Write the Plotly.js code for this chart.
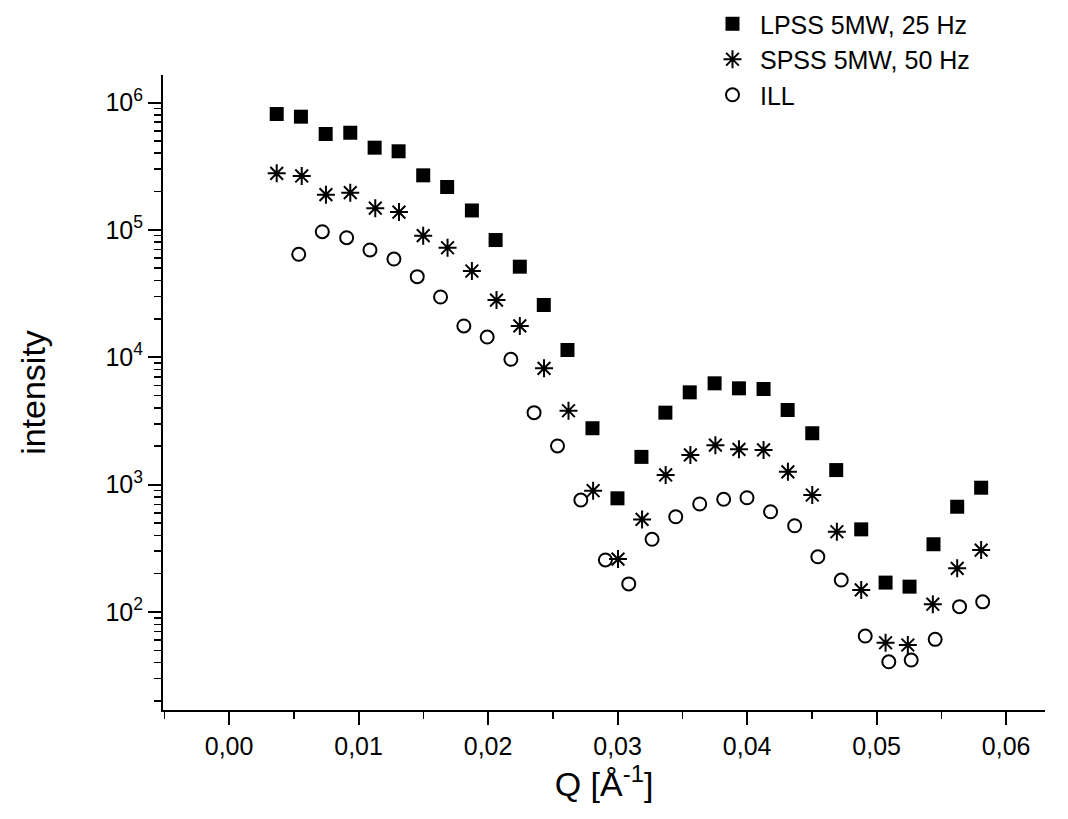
<!DOCTYPE html>
<html>
<head>
<meta charset="utf-8">
<script src="https://cdn.plot.ly/plotly-3.0.1.min.js"></script>
<style>html,body{margin:0;padding:0;background:#fff}#chart{width:1068px;height:819px}</style>
</head>
<body>
<div id="chart"></div>
<script>
// LPSS 5MW, 25 Hz (filled squares)
const lpssQ = [0.00368,0.00555,0.00746,0.00936,0.01124,0.01309,0.01499,0.01684,0.01875,0.02058,
               0.02245,0.02430,0.02613,0.02806,0.02999,0.03184,0.03369,0.03557,0.03749,0.03937,
               0.04127,0.04313,0.04503,0.04688,0.04881,0.05069,0.05254,0.05439,0.05622,0.05807];
const lpssI = [8.12e5,7.74e5,5.66e5,5.79e5,4.42e5,4.14e5,2.68e5,2.17e5,1.42e5,8.32e4,
               5.14e4,2.57e4,1.14e4,2770,780,1650,3670,5300,6240,5700,
               5630,3850,2530,1300,445,170,158,340,670,945];
// SPSS 5MW, 50 Hz (asterisks)
const spssQ = [0.00368,0.00561,0.00748,0.00936,0.01129,0.01312,0.01499,0.01687,0.01875,0.02065,
               0.02245,0.02432,0.02621,0.02811,0.03003,0.03189,0.03371,0.03562,0.03755,0.03937,
               0.04127,0.04315,0.04503,0.04693,0.04881,0.05069,0.05241,0.05434,0.05622,0.05807];
const spssI = [2.78e5,2.65e5,1.89e5,1.96e5,1.48e5,1.38e5,9.0e4,7.24e4,4.75e4,2.81e4,
               1.76e4,8180,3800,895,260,533,1190,1710,2040,1890,
               1870,1260,828,426,149,57.3,55.0,115,220,306];
// ILL (open circles)
const illQ = [0.00538,0.00720,0.00908,0.01088,0.01273,0.01453,0.01633,0.01813,0.01993,0.02176,
              0.02355,0.02536,0.02716,0.02906,0.03086,0.03266,0.03449,0.03634,0.03819,0.03999,
              0.04181,0.04367,0.04546,0.04727,0.04912,0.05094,0.05267,0.05452,0.05640,0.05819];
const illI = [6.43e4,9.67e4,8.68e4,6.95e4,5.90e4,4.29e4,2.97e4,1.76e4,1.44e4,9630,
              3670,2010,756,256,166,372,559,704,766,788,
              612,475,271,178,64.7,40.6,41.9,60.9,110,120];

const seriesNames = ["LPSS 5MW, 25 Hz", "SPSS 5MW, 50 Hz", "ILL"];
const xTickVals = [0, 0.01, 0.02, 0.03, 0.04, 0.05, 0.06];
const xTickText = ["0,00", "0,01", "0,02", "0,03", "0,04", "0,05", "0,06"];
const yTickVals = [1e2, 1e3, 1e4, 1e5, 1e6];
const yTickText = ["10<sup>2</sup>", "10<sup>3</sup>", "10<sup>4</sup>", "10<sup>5</sup>", "10<sup>6</sup>"];

const FONT = "Liberation Sans, Arial, sans-serif";

const traces = [
  {x: lpssQ, y: lpssI, name: seriesNames[0], type: "scatter", mode: "markers",
   marker: {symbol: "square", size: 14, color: "#000"}},
  {x: spssQ, y: spssI, name: seriesNames[1], type: "scatter", mode: "markers",
   marker: {symbol: "asterisk-open", size: 15, color: "#000", line: {color: "#000", width: 2}}},
  {x: illQ, y: illI, name: seriesNames[2], type: "scatter", mode: "markers",
   marker: {symbol: "circle-open", size: 13, color: "#000", line: {color: "#000", width: 2}}}
];

const layout = {
  width: 1068, height: 819,
  margin: {l: 163, r: 23, t: 75, b: 109, autoexpand: false},
  paper_bgcolor: "#fff", plot_bgcolor: "#fff",
  font: {family: FONT, color: "#000", size: 24},
  showlegend: true,
  legend: {x: 0.6145, xanchor: "left", y: 1.1165, yanchor: "top",
           bgcolor: "rgba(0,0,0,0)", borderwidth: 0, tracegroupgap: 0,
           font: {family: FONT, size: 25, color: "#000"}, itemwidth: 45},
  xaxis: {
    range: [-0.0051, 0.063],
    showgrid: false, zeroline: false,
    showline: true, linecolor: "#000", linewidth: 2,
    ticks: "outside", ticklen: 13, tickwidth: 2, tickcolor: "#000",
    tickvals: xTickVals, ticktext: xTickText,
    tickfont: {family: FONT, size: 25, color: "#000"},
    minor: {ticks: "outside", ticklen: 7, tickwidth: 1.5, tickcolor: "#000", dtick: 0.005, showgrid: false},
    title: {text: "Q [Å<sup>-1</sup>]", font: {family: FONT, size: 34, color: "#000"}, standoff: 9}
  },
  yaxis: {
    type: "log",
    range: [1.23, 6.216],
    showgrid: false, zeroline: false,
    showline: true, linecolor: "#000", linewidth: 2,
    ticks: "outside", ticklen: 13, tickwidth: 2, tickcolor: "#000",
    tickvals: yTickVals, ticktext: yTickText,
    tickfont: {family: FONT, size: 25, color: "#000"},
    minor: {ticks: "outside", ticklen: 7, tickwidth: 1.5, tickcolor: "#000", dtick: "D1", showgrid: false},
    title: {text: "intensity", font: {family: FONT, size: 34, color: "#000"}, standoff: 50}
  }
};

Plotly.newPlot("chart", traces, layout, {displayModeBar: false, staticPlot: true});
</script>
</body>
</html>
